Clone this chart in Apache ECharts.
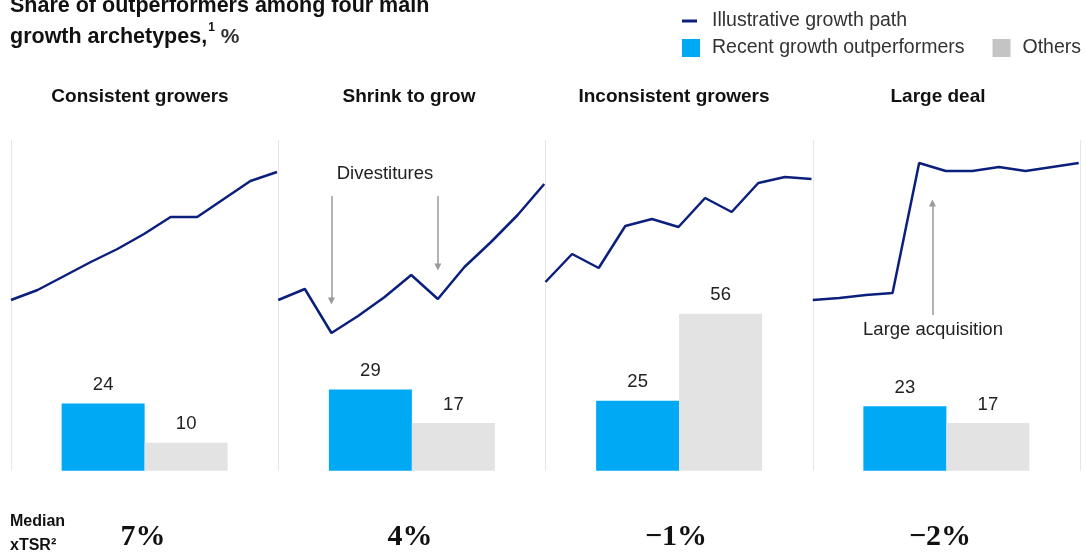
<!DOCTYPE html>
<html>
<head>
<meta charset="utf-8">
<script src="https://cdn.jsdelivr.net/npm/echarts@6/dist/echarts.min.js"></script>
<style>
	html, body { margin: 0; padding: 0; background: #fff; }
	#chart { width: 1086px; height: 557px; }
</style>
</head>
<body>
<div id="chart"></div>
<script>
// archetypes
var archetypes = ['Consistent growers', 'Shrink to grow', 'Inconsistent growers', 'Large deal'];
// share of outperformers, %
var outperformers = [24, 29, 25, 23];
var others = [10, 17, 56, 17];
// median xTSR
var medianTsr = ['7%', '4%', '−1%', '−2%'];
// illustrative growth paths (index, 11 steps each)
var pathConsistent = [20, 25, 32, 39, 45.5, 53, 61.5, 61.5, 70.5, 79.5, 84];
var pathShrink = [20, 25.5, 3.5, 12, 21.5, 32.5, 20.5, 36.5, 49, 62.5, 78];
var pathInconsistent = [29, 43, 36, 57, 60.5, 56.5, 71, 64, 78.5, 81.5, 80.5];
var pathLargeDeal = [20, 21, 22.5, 23.5, 88.5, 84.5, 84.5, 86.5, 84.5, 86.5, 88.5];
var paths = [pathConsistent, pathShrink, pathInconsistent, pathLargeDeal];

var FONT = 'Liberation Sans';
var NAVY = '#0b1f7d';
var BLUE = '#00a9f4';
var GRAY = '#e3e3e3';
var ARROW = '#9a9a9a';

var panelLeft = 11, panelW = 267.25;

var grids = [], xAxes = [], yAxes = [], series = [], graphics = [];

// bar grid spanning all panels (index 0)
grids.push({left: panelLeft, width: panelW * 4, top: 140, bottom: 86.3});
xAxes.push({
	type: 'category', gridIndex: 0, data: archetypes,
	axisLine: {show: false}, axisTick: {show: false}, axisLabel: {show: false},
	splitLine: {show: true, lineStyle: {color: '#e6e6e6', width: 1}}
});
yAxes.push({type: 'value', gridIndex: 0, min: 0, max: 118, show: false, splitLine: {show: false}});

var barLabel = {show: true, position: 'top', distance: 9, color: '#222', fontSize: 18.5, fontFamily: FONT};
series.push({
	name: 'Recent growth outperformers', type: 'bar', xAxisIndex: 0, yAxisIndex: 0,
	barWidth: 83, barGap: '0%', data: outperformers,
	itemStyle: {color: BLUE}, label: barLabel
});
series.push({
	name: 'Others', type: 'bar', xAxisIndex: 0, yAxisIndex: 0,
	barWidth: 83, barGap: '0%', data: others,
	itemStyle: {color: GRAY}, label: barLabel
});

// line grids, one per panel
var arrowLine = {color: ARROW, width: 1.5, type: 'solid'};
paths.forEach(function(p, i) {
	var g = i + 1;
	grids.push({left: panelLeft + panelW * i, width: 266, top: 140, height: 200});
	xAxes.push({type: 'value', gridIndex: g, min: 0, max: 10, show: false, splitLine: {show: false}});
	yAxes.push({type: 'value', gridIndex: g, min: 0, max: 100, show: false, splitLine: {show: false}});
	var s = {
		name: 'Illustrative growth path', type: 'line', xAxisIndex: g, yAxisIndex: g,
		data: p.map(function(v, k) { return [k, v]; }),
		symbol: 'none', lineStyle: {color: NAVY, width: 2.5}, itemStyle: {color: NAVY},
		z: 5
	};
	if (i === 1) {
		s.markLine = {
			silent: true, symbol: ['none', 'triangle'], symbolSize: [7, 7],
			lineStyle: arrowLine, label: {show: false},
			data: [
				[{coord: [2, 72]}, {coord: [2, 19.5]}],
				[{coord: [6, 72]}, {coord: [6, 36.5]}]
			]
		};
	}
	if (i === 3) {
		s.markLine = {
			silent: true, symbol: ['none', 'triangle'], symbolSize: [7, 7],
			lineStyle: arrowLine, label: {show: false},
			data: [[{coord: [4.5, 12.5]}, {coord: [4.5, 68.5]}]]
		};
	}
	series.push(s);
});

// panel headers and median xTSR values
var headerX = [140, 409, 674, 938];
var tsrX = [143, 410, 676, 940];
archetypes.forEach(function(a, i) {
	graphics.push({
		type: 'text', x: headerX[i], y: 97,
		style: {text: a, align: 'center', verticalAlign: 'middle',
			font: 'bold 19px "' + FONT + '"', fill: '#111'}
	});
	graphics.push({
		type: 'text', x: tsrX[i], y: 537,
		style: {text: medianTsr[i], align: 'center', verticalAlign: 'middle',
			font: 'bold 30px "Liberation Serif"', fill: '#111'}
	});
});

graphics.push({
	type: 'text', x: 10, y: 522,
	style: {text: 'Median', verticalAlign: 'middle', font: 'bold 16px "' + FONT + '"', fill: '#111'}
});
graphics.push({
	type: 'text', x: 10, y: 546,
	style: {text: 'xTSR²', verticalAlign: 'middle', font: 'bold 16px "' + FONT + '"', fill: '#111'}
});
graphics.push({
	type: 'text', x: 385, y: 174,
	style: {text: 'Divestitures', align: 'center', verticalAlign: 'middle', font: '18.5px "' + FONT + '"', fill: '#222'}
});
graphics.push({
	type: 'text', x: 933, y: 330,
	style: {text: 'Large acquisition', align: 'center', verticalAlign: 'middle', font: '18.5px "' + FONT + '"', fill: '#222'}
});

var chart = echarts.init(document.getElementById('chart'), null, {renderer: 'canvas'});
chart.setOption({
	animation: false,
	textStyle: {fontFamily: FONT},
	title: {
		left: 10, top: -9, padding: 0,
		text: '{b|Share of outperformers among four main}\n{b|growth archetypes,}{s|1}{r| %}',
		textStyle: {
			lineHeight: 31,
			rich: {
				b: {fontSize: 21.5, fontWeight: 'bold', color: '#111', fontFamily: FONT, lineHeight: 31},
				s: {fontSize: 12, fontWeight: 'bold', color: '#111', fontFamily: FONT, verticalAlign: 'top', padding: [0, 0, 6, 1]},
				r: {fontSize: 21, color: '#333', fontFamily: FONT, lineHeight: 31}
			}
		}
	},
	legend: [{
		left: 682, top: 11, padding: 0, data: ['Illustrative growth path'],
		icon: 'rect', itemWidth: 15, itemHeight: 3,
		textStyle: {fontSize: 19.5, color: '#333', fontFamily: FONT, padding: [0, 0, 0, 10]},
		selectedMode: false
	}, {
		left: 682, top: 38, padding: 0,
		data: [{name: 'Recent growth outperformers', itemStyle: {color: BLUE}},
			{name: 'Others', itemStyle: {color: '#c4c4c4'}}],
		icon: 'rect', itemWidth: 18, itemHeight: 18, itemGap: 28,
		textStyle: {fontSize: 19.5, color: '#333', fontFamily: FONT, padding: [0, 0, 0, 7]},
		selectedMode: false
	}],
	grid: grids,
	xAxis: xAxes,
	yAxis: yAxes,
	series: series,
	graphic: graphics
});
</script>
</body>
</html>
